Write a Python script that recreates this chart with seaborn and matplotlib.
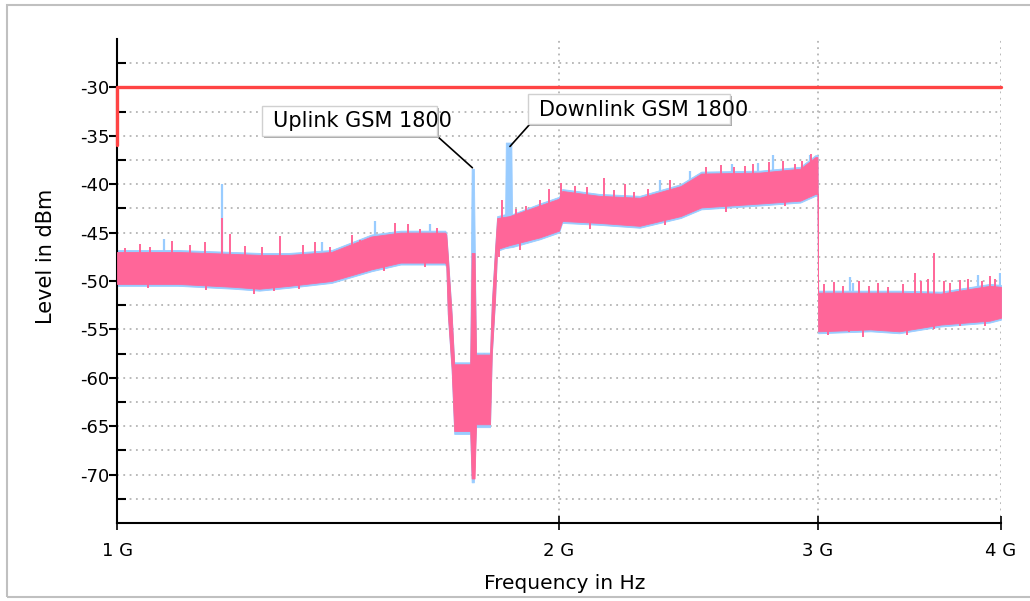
import numpy as np
import matplotlib
matplotlib.use("Agg")
import matplotlib.pyplot as plt
import seaborn as sns
from matplotlib.patches import Rectangle
from matplotlib.ticker import FixedLocator, NullLocator, FixedFormatter

# spectrum envelope (GHz, dBm)
pink_freq = [1.000, 1.10, 1.20, 1.25, 1.31, 1.40, 1.49, 1.56, 1.673, 1.676, 1.680, 1.690, 1.697,
             1.740, 1.744, 1.752, 1.756, 1.795, 1.800, 1.809, 1.815, 1.85, 1.94, 2.00, 2.01,
             2.13, 2.27, 2.42, 2.50, 2.74, 2.92, 2.99, 3.000, 3.003, 3.26, 3.41, 3.64, 3.93, 4.00]
pink_lo = [-50.3, -50.3, -50.6, -50.8, -50.5, -50.0, -48.8, -48.1, -48.1, -48.4, -53.4, -59.0, -65.5,
           -65.5, -70.4, -70.4, -64.8, -64.8, -57.5, -52.0, -46.7, -46.3, -45.5, -44.8, -43.8,
           -44.0, -44.3, -43.3, -42.4, -42.0, -41.7, -41.0, -41.0, -55.2, -55.0, -55.2, -54.5, -54.1, -53.8]
pink_hi = [-47.0, -47.0, -47.2, -47.3, -47.3, -47.0, -45.4, -45.0, -45.0, -45.2, -47.4, -53.4, -58.6,
           -58.6, -47.1, -47.1, -57.6, -57.6, -52.4, -46.9, -43.5, -43.3, -42.2, -41.5, -40.7,
           -41.2, -41.4, -40.2, -38.9, -38.8, -38.4, -37.2, -37.2, -51.2, -51.2, -51.2, -51.3, -50.5, -50.6]

blue_freq = [1.000, 1.10, 1.20, 1.25, 1.31, 1.40, 1.49, 1.56, 1.673, 1.676, 1.680, 1.690, 1.697,
             1.740, 1.744, 1.750, 1.756, 1.795, 1.800, 1.809, 1.815, 1.838, 1.840, 1.856, 1.858,
             1.94, 2.00, 2.01, 2.13, 2.27, 2.42, 2.50, 2.74, 2.92, 2.99, 3.000, 3.003, 3.26, 3.41,
             3.64, 3.93, 4.00]
blue_lo = [-50.5, -50.5, -50.8, -51.0, -50.7, -50.2, -49.0, -48.3, -48.3, -48.6, -53.6, -59.2, -65.8,
           -65.8, -70.8, -70.8, -65.1, -65.1, -57.7, -52.2, -46.9, -46.6, -46.6, -46.5, -46.5,
           -45.7, -45.0, -44.0, -44.2, -44.5, -43.5, -42.6, -42.2, -41.9, -41.2, -41.2, -55.4, -55.2, -55.4,
           -54.7, -54.3, -54.0]
blue_hi = [-46.8, -46.8, -47.0, -47.1, -47.1, -46.8, -45.2, -44.8, -44.8, -45.0, -47.2, -53.2, -58.4,
           -58.4, -38.4, -38.4, -57.4, -57.4, -52.2, -46.7, -43.3, -43.1, -35.7, -35.7, -43.1,
           -42.0, -41.3, -40.5, -41.0, -41.2, -40.0, -38.7, -38.6, -38.2, -37.0, -37.0, -51.0, -51.0, -51.0,
           -51.1, -50.3, -50.4]

# single peaks above the band (GHz, dBm)
pink_spike_freq = [1.013, 1.037, 1.053, 1.090, 1.121, 1.148, 1.179, 1.194, 1.222, 1.255, 1.291,
                   1.339, 1.364, 1.397, 1.446, 1.464, 1.522, 1.547, 1.578, 1.608, 1.652,
                   1.829, 1.87, 1.90, 1.941, 1.97, 2.006, 2.05, 2.09, 2.146, 2.18, 2.218, 2.25,
                   2.30, 2.38, 2.52, 2.58, 2.63, 2.677, 2.71, 2.78, 2.84, 2.896, 2.93, 2.97,
                   3.03, 3.08, 3.12, 3.20, 3.25, 3.298, 3.35, 3.43, 3.495, 3.53, 3.567, 3.601,
                   3.66, 3.693, 3.75, 3.80, 3.88, 3.931, 3.96]
pink_spike_top = [-46.6, -46.2, -46.5, -45.9, -46.3, -46.0, -43.5, -45.1, -46.4, -46.5, -45.3,
                  -46.3, -46.0, -46.5, -45.2, -45.8, -45.4, -44.0, -44.1, -44.6, -44.5,
                  -41.6, -42.6, -42.3, -41.6, -40.5, -39.9, -40.2, -40.3, -39.4, -40.6, -40.0, -40.8,
                  -40.5, -39.6, -38.2, -38.0, -38.2, -38.1, -37.9, -37.7, -37.6, -37.9, -37.6, -36.9,
                  -50.3, -50.1, -50.5, -50.0, -50.5, -50.2, -50.6, -50.3, -49.2, -50.0, -49.8, -47.1,
                  -50.0, -50.2, -49.9, -49.8, -50.0, -49.5, -49.8]
# single dips below the band
pink_dip_freq = [1.05, 1.15, 1.24, 1.28, 1.33, 1.52, 1.62, 1.82, 1.88, 2.10, 2.36, 2.60, 2.85,
                 3.05, 3.15, 3.22, 3.45, 3.60, 3.75, 3.90]
pink_dip_bottom = [-50.7, -50.9, -51.3, -51.0, -50.8, -49.0, -48.6, -47.5, -46.8, -44.6, -44.2,
                   -42.9, -42.3, -55.6, -55.3, -55.8, -55.6, -55.0, -54.7, -54.6]
blue_spike_freq = [1.076, 1.179, 1.379, 1.499, 1.634, 2.343, 2.456, 2.623, 2.732, 2.797, 2.965,
                   3.157, 3.172, 3.858, 3.994]
blue_spike_top = [-45.7, -40.0, -46.0, -43.8, -44.1, -39.6, -38.6, -37.9, -37.8, -37.0, -37.0,
                  -49.6, -50.2, -49.4, -49.2]

# limit line
limit_freq = [1.0, 1.0, 4.0]
limit_level = [-36, -30, -30]

x_ticks = [1, 2, 3, 4]
x_labels = ["1 G", "2 G", "3 G", "4 G"]
y_major = [-30, -35, -40, -45, -50, -55, -60, -65, -70]
y_minor = [-27.5, -32.5, -37.5, -42.5, -47.5, -52.5, -57.5, -62.5, -67.5, -72.5]

sns.set_style("white")
plt.rcParams['font.family'] = ['DejaVu Sans']
plt.rcParams['axes.unicode_minus'] = False
plt.rcParams['text.color'] = 'black'
plt.rcParams['axes.labelcolor'] = 'black'

PINK = "#ff6699"
BLUE = "#99ccff"
RED = "#ff4444"

fig = plt.figure(figsize=(10.3, 6.01), dpi=100)
ax = fig.add_axes([0.1136, 0.1298, 0.8582, 0.8053])

G = 1e9
pf = np.array(pink_freq) * G
bf = np.array(blue_freq) * G

ax.fill_between(bf, blue_lo, blue_hi, color=BLUE, lw=0.6, edgecolor=BLUE, zorder=2)
bsf = np.array(blue_spike_freq) * G
ax.vlines(bsf, np.interp(bsf, bf, blue_hi) - 1, blue_spike_top, color=BLUE, lw=1.6, zorder=2)

ax.fill_between(pf, pink_lo, pink_hi, color=PINK, lw=0.6, edgecolor=PINK, zorder=3)
psf = np.array(pink_spike_freq) * G
ax.vlines(psf, np.interp(psf, pf, pink_hi) - 1, pink_spike_top, color=PINK, lw=1.4, zorder=3)
pdf_ = np.array(pink_dip_freq) * G
ax.vlines(pdf_, pink_dip_bottom, np.interp(pdf_, pf, pink_lo) + 1, color=PINK, lw=1.4, zorder=3)

sns.lineplot(x=np.array(limit_freq) * G, y=limit_level, sort=False, estimator=None,
             color=RED, lw=2.4, ax=ax, zorder=5, clip_on=False)

ax.set_xscale('log')
ax.set_xlim(1 * G, 4 * G)
ax.set_ylim(-75, -25)

ax.xaxis.set_major_locator(FixedLocator([t * G for t in x_ticks]))
ax.xaxis.set_major_formatter(FixedFormatter(x_labels))
ax.xaxis.set_minor_locator(NullLocator())
ax.yaxis.set_major_locator(FixedLocator(y_major))
ax.yaxis.set_minor_locator(FixedLocator(y_minor))

ax.grid(which='both', axis='y', linestyle=(0, (1, 2.5)), color='#b4b4b4', lw=1.3, zorder=0)
ax.grid(which='major', axis='x', linestyle=(0, (1, 2.5)), color='#b4b4b4', lw=1.3, zorder=0)
ax.set_axisbelow(True)

ax.tick_params(axis='x', which='major', bottom=True, direction='inout', length=9.5, width=1.2,
               pad=9, labelsize=13, colors='black')
ax.tick_params(axis='y', which='major', left=True, direction='out', length=5.5, width=1.5,
               pad=0, labelsize=13, colors='black')
ax.tick_params(axis='y', which='minor', left=True, direction='in', length=6.5, width=1.5, colors='black')

for s in ['top', 'right']:
    ax.spines[s].set_visible(False)
for s in ['left', 'bottom']:
    ax.spines[s].set_color('black')
    ax.spines[s].set_linewidth(1.5)

ax.set_xlabel("Frequency in Hz", fontsize=14.5)
ax.xaxis.set_label_coords(0.507, -0.105)
ax.set_ylabel("Level in dBm", fontsize=15)
ax.yaxis.set_label_coords(-0.069, 0.55)

# annotation boxes
def note_box(x0, y0, x1, y1):
    W, H = 1030, 601
    fig.add_artist(Rectangle((x0 / W + 1.5 / W, 1 - y1 / H - 1.5 / H), (x1 - x0) / W, (y1 - y0) / H,
                             transform=fig.transFigure, facecolor='#a8a8a8', edgecolor='none', zorder=6))
    fig.add_artist(Rectangle((x0 / W, 1 - y1 / H), (x1 - x0) / W, (y1 - y0) / H,
                             transform=fig.transFigure, facecolor='white', edgecolor='#d0d0d0',
                             lw=1, zorder=7))

note_box(262, 106, 437, 136)
note_box(528, 94, 730, 124)
fig.text(273 / 1030, 1 - 127 / 601, "Uplink GSM 1800", fontsize=15, va='baseline', zorder=8)
fig.text(539 / 1030, 1 - 116 / 601, "Downlink GSM 1800", fontsize=15, va='baseline', zorder=8)

ax.annotate("", xy=(1.746 * G, -38.3), xycoords='data',
            xytext=(437 / 1030, 1 - 136 / 601), textcoords='figure fraction',
            arrowprops=dict(arrowstyle='-', color='black', lw=1.2, shrinkA=0, shrinkB=0))
ax.annotate("", xy=(1.852 * G, -36.1), xycoords='data',
            xytext=(530 / 1030, 1 - 124 / 601), textcoords='figure fraction',
            arrowprops=dict(arrowstyle='-', color='black', lw=1.2, shrinkA=0, shrinkB=0))

# outer frame
fig.add_artist(Rectangle((7 / 1030, 1 - 597 / 601), 1.2, 592 / 601, transform=fig.transFigure,
                         fill=False, edgecolor='#c0c0c0', lw=1.5))

fig.savefig("out.png", dpi=100)
